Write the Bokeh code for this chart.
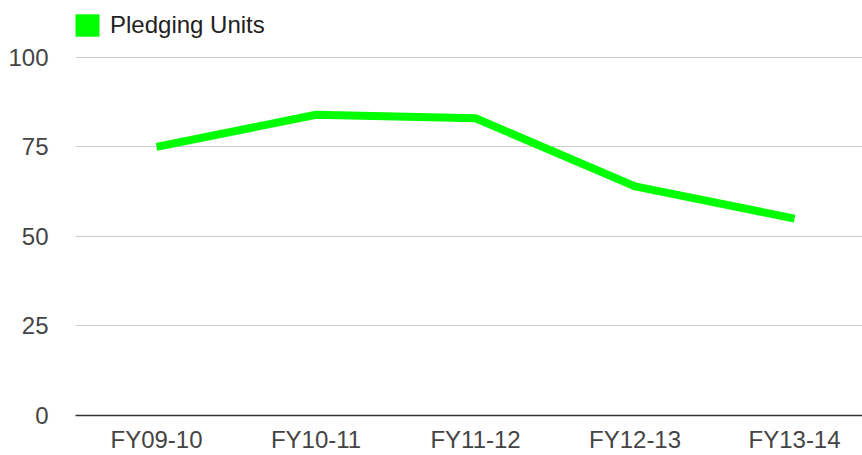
from bokeh.plotting import figure
from bokeh.models import Range1d, FixedTicker, Legend, LegendItem
from bokeh.embed import file_html
from bokeh.resources import INLINE

categories = ["FY09-10", "FY10-11", "FY11-12", "FY12-13", "FY13-14"]
pledging_units = [75, 84, 83, 64, 55]
y_ticks = [0, 25, 50, 75, 100]
series_name = "Pledging Units"

xs = list(range(len(categories)))

# frame spans the full height above the axis so the legend can sit inside it
p = figure(width=862, height=455, output_backend="svg", toolbar_location=None,
           x_range=Range1d(-0.508, 4.426), y_range=Range1d(0, 115.9),
           min_border_left=75, min_border_right=0, min_border_top=0, min_border_bottom=0)
p.outline_line_color = None
p.background_fill_color = "white"
p.border_fill_color = "white"

line = p.line(xs, pledging_units, line_color="#00ff00", line_width=8,
              line_cap="butt", line_join="round")
# hidden bars only used to draw a filled square swatch in the legend
swatch = p.vbar(x=xs, top=pledging_units, width=0.3, fill_color="#00ff00",
                line_color=None, visible=False)

font = "Liberation Sans"
p.xaxis.ticker = FixedTicker(ticks=xs)
p.xaxis.major_label_overrides = {i: c for i, c in enumerate(categories)}
p.xaxis.axis_line_color = "#333333"
p.xaxis.axis_line_width = 1.5
p.xaxis.major_tick_line_color = None
p.xaxis.minor_tick_line_color = None
p.xaxis.major_label_standoff = 4
p.xaxis.major_label_text_font = font
p.xaxis.major_label_text_font_size = "24px"
p.xaxis.major_label_text_color = "#444444"

p.yaxis.ticker = FixedTicker(ticks=y_ticks)
p.yaxis.axis_line_color = None
p.yaxis.major_tick_line_color = None
p.yaxis.minor_tick_line_color = None
p.yaxis.major_label_standoff = 21
p.yaxis.major_label_text_font = font
p.yaxis.major_label_text_font_size = "24px"
p.yaxis.major_label_text_color = "#444444"

p.xgrid.grid_line_color = None
p.ygrid.ticker = FixedTicker(ticks=y_ticks[1:])
p.ygrid.grid_line_color = "#cccccc"
p.ygrid.grid_line_width = 1

legend = Legend(items=[LegendItem(label=series_name, renderers=[swatch])],
                location=(-3, 376), padding=0, margin=0, spacing=0,
                glyph_width=30, glyph_height=28, label_height=28, label_standoff=8,
                label_text_font=font, label_text_font_size="24px",
                label_text_color="#222222", label_text_baseline="middle",
                inactive_fill_alpha=0.0,
                background_fill_alpha=0, border_line_color=None)
p.add_layout(legend, "center")

open("out.html", "w").write(file_html(p, INLINE))
